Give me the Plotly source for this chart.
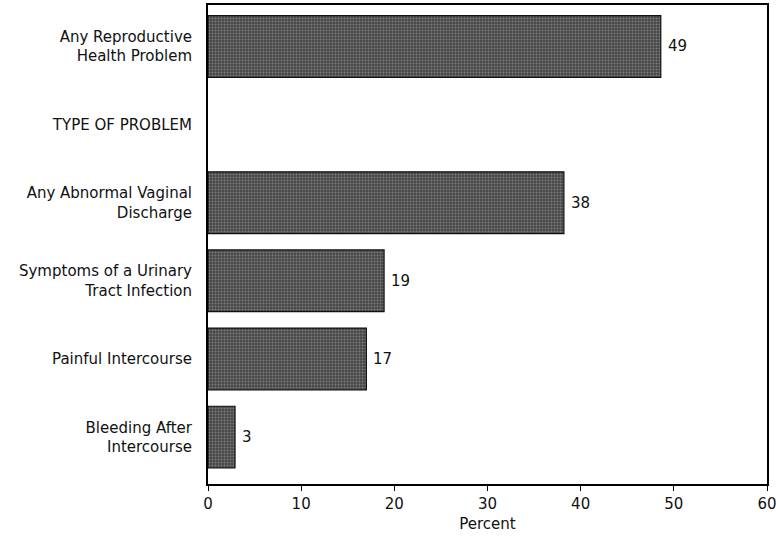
import plotly.graph_objects as go

categories = [
    "Any Reproductive<br>Health Problem",
    "TYPE OF PROBLEM",
    "Any Abnormal Vaginal<br>Discharge",
    "Symptoms of a Urinary<br>Tract Infection",
    "Painful Intercourse",
    "Bleeding After<br>Intercourse",
]
values = [48.6, None, 38.2, 18.9, 17.0, 2.9]
labels = ["49", "", "38", "19", "17", "3"]
x_ticks = [0, 10, 20, 30, 40, 50, 60]

FONT = "DejaVu Sans, Arial, sans-serif"
FS = 15

ypos = list(range(len(categories)))

fig = go.Figure(
    go.Bar(
        y=ypos,
        x=values,
        orientation="h",
        width=0.79,
        marker=dict(
            color="#505050",
            line=dict(color="#111111", width=1.2),
            pattern=dict(shape=".", fgcolor="#b0b0b0", bgcolor="#474747",
                         size=3, solidity=0.35, fillmode="overlay"),
        ),
    )
)

for yi, v, t in zip(ypos, values, labels):
    if v is None:
        continue
    fig.add_annotation(x=v, y=yi, text=t, showarrow=False, xanchor="left",
                       xshift=5, font=dict(family=FONT, size=FS, color="#111"))

fig.update_layout(
    width=776, height=536,
    margin=dict(l=208, r=9, t=5, b=52),
    plot_bgcolor="white", paper_bgcolor="white",
    showlegend=False,
    font=dict(family=FONT, size=FS, color="#111"),
)
fig.update_xaxes(
    range=[0, 60], tickvals=x_ticks, ticks="outside", ticklen=5, tickwidth=1,
    tickcolor="#000", showline=True, linecolor="#000", linewidth=2, mirror=True,
    showgrid=False, zeroline=False, ticklabeloverflow="allow", automargin=False,
    title=dict(text="Percent", standoff=6, font=dict(size=FS)),
    tickfont=dict(size=FS),
)
fig.update_yaxes(
    range=[5.6, -0.53], tickvals=ypos, ticktext=categories,
    showline=True, linecolor="#000", linewidth=2, mirror=True, showgrid=False,
    zeroline=False, ticks="", ticklabelstandoff=11, tickfont=dict(size=FS),
    automargin=False,
)

fig.write_html("out.html")
